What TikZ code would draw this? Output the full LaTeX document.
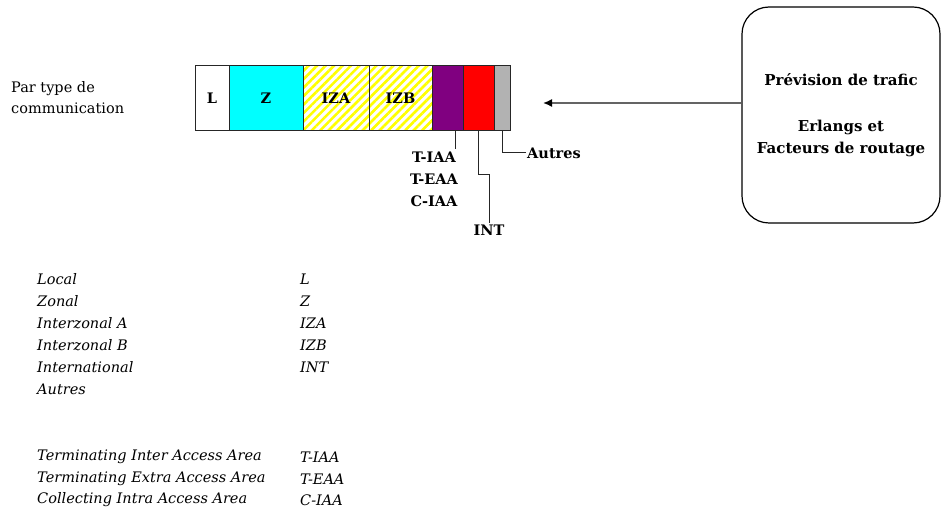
\documentclass[tikz,border=0pt]{standalone}
\usepackage{fontspec}
\setmainfont{DejaVu Serif}
\usepackage{tikz}
\usetikzlibrary{arrows.meta,positioning,patterns.meta}
\definecolor{trcyan}{RGB}{0,255,255}
\definecolor{trpurple}{RGB}{128,0,128}
\definecolor{trred}{RGB}{255,0,0}
\definecolor{trgray}{RGB}{178,178,178}
\definecolor{tryellow}{RGB}{255,255,0}
\definecolor{trline}{RGB}{100,100,100}
\tikzset{
  cell/.style={rectangle, draw=black!85, line width=1pt, minimum height=65pt, inner sep=0pt, outer sep=0pt, font=\fontsize{14.5}{16}\selectfont\bfseries},
  hatched/.style={cell, pattern={Lines[angle=45,distance=6pt,line width=2.6pt]}, pattern color=tryellow},
  lbl/.style={align=center, inner sep=2pt, font=\fontsize{14.5}{22}\selectfont\bfseries},
  forecast/.style={rectangle, rounded corners=27pt, draw=black, line width=1.2pt, align=center, minimum width=198pt, minimum height=216pt, font=\fontsize{15}{22}\selectfont\bfseries},
  legend/.style={anchor=west, inner sep=0pt, font=\fontsize{14.5}{16}\selectfont\itshape},
  plain/.style={anchor=west, align=left, inner sep=0pt, font=\fontsize{14.5}{21}\selectfont},
  leader/.style={line width=1pt, draw=black!85},
  arrow/.style={-{Latex[length=9pt,width=8pt,color=black]}, line width=1.5pt, draw=trline}
}
\begin{document}
\begin{tikzpicture}[x=1pt, y=-1pt]
\useasboundingbox (0,0) rectangle (941,510);
% bar by type of communication
\node[plain] (par) at (11,98) {Par type de\\communication};
\node[cell, minimum width=34pt, anchor=north west] (l) at (195,66) {L};
\node[cell, fill=trcyan, minimum width=74pt, right=0pt of l] (z) {Z};
\node[hatched, minimum width=66pt, right=0pt of z] (iza) {IZA};
\node[hatched, minimum width=63pt, right=0pt of iza] (izb) {IZB};
\node[cell, fill=trpurple, minimum width=31pt, right=0pt of izb] (pu) {};
\node[cell, fill=trred, minimum width=31pt, right=0pt of pu] (re) {};
\node[cell, fill=trgray, minimum width=16pt, right=0pt of re] (gr) {};
% labels under the bar
\node[lbl] (tiaa) at (434,179) {T-IAA\\T-EAA\\C-IAA};
\node[lbl] (int) at (489,230) {INT};
\node[lbl, anchor=west, inner sep=1pt] (autres) at (526,153) {Autres};
\draw[leader] ([xshift=8pt]pu.south) -- ([xshift=8pt]pu.south |- tiaa.north);
\draw[leader] (re.south) -- ++(0,44) -| (int.north);
\draw[leader] (gr.south) |- (autres.west);
% forecast box
\node[forecast] (prev) at (841,115) {Prévision de trafic\\[24pt]Erlangs et\\Facteurs de routage};
\coordinate (tip) at (543,103);
\draw[arrow] (prev.west |- tip) -- (tip);
% legend
\node[legend] (loc) at (37,279) {Local};
\node[legend] (zon) at (37,301) {Zonal};
\node[legend] (ina) at (37,323) {Interzonal A};
\node[legend] (inb) at (37,345) {Interzonal B};
\node[legend] (itl) at (37,367) {International};
\node[legend] (aut) at (37,389) {Autres};
\node[legend] (ll) at (300,279) {L};
\node[legend] (lz) at (300,301) {Z};
\node[legend] (lia) at (300,323) {IZA};
\node[legend] (lib) at (300,345) {IZB};
\node[legend] (lin) at (300,367) {INT};
\node[legend] (tia) at (37,457) {Terminating Inter Access Area};
\node[legend] (tea) at (37,479) {Terminating Extra Access Area};
\node[legend] (cia) at (37,500) {Collecting Intra Access Area};
\node[legend] (ltia) at (300,457) {T-IAA};
\node[legend] (ltea) at (300,479) {T-EAA};
\node[legend] (lcia) at (300,500) {C-IAA};
\end{tikzpicture}
\end{document}
